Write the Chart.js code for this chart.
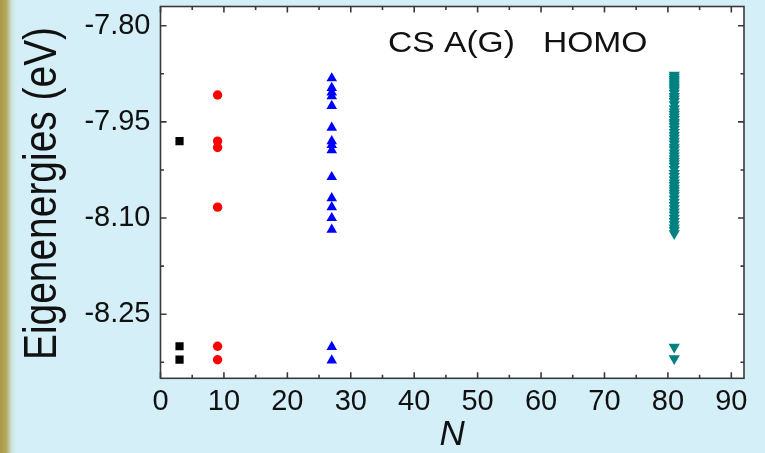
<!DOCTYPE html>
<html>
<head>
<meta charset="utf-8">
<script src="https://cdn.jsdelivr.net/npm/chart.js@4.4.1/dist/chart.umd.min.js"></script>
<style>
  html, body { margin: 0; padding: 0; }
  body {
    width: 765px; height: 453px; overflow: hidden;
    background: linear-gradient(to right, #a89a48 0px, #b3a658 6px, #cde6e2 12px, #d4eff7 17px, #d4eff7 100%);
  }
  canvas { display: block; }
</style>
</head>
<body>
<canvas id="chart" width="765" height="453"></canvas>
<script>
// Cluster sizes N and the HOMO-region eigenenergies (eV) computed for each
const clusterSizes = [3, 9, 27, 81];

const levelsN3 = [-7.980, -8.300, -8.321];

const levelsN9 = [-7.908, -7.980, -7.990, -8.083, -8.300, -8.321];

const levelsN27 = [-7.882, -7.897, -7.904, -7.910, -7.925, -7.959, -7.980, -7.986, -7.994,
                   -8.036, -8.069, -8.083, -8.100, -8.118, -8.301, -8.322];

const levelsN81 = [-7.877, -7.880, -7.883, -7.886, -7.889, -7.892, -7.895, -7.898, -7.901,
                   -7.905, -7.910, -7.914, -7.918, -7.923, -7.929, -7.934, -7.938, -7.942,
                   -7.946, -7.950, -7.953, -7.957, -7.961, -7.966, -7.971, -7.975, -7.980,
                   -7.984, -7.989, -7.993, -7.998, -8.003, -8.007, -8.011, -8.015, -8.019,
                   -8.024, -8.030, -8.035, -8.040, -8.045, -8.049, -8.053, -8.057, -8.061,
                   -8.065, -8.070, -8.075, -8.080, -8.085, -8.090, -8.095, -8.100, -8.105,
                   -8.110, -8.115, -8.119, -8.124, -8.301, -8.319];

// Axis ticks
const xMajorTicks = [0, 10, 20, 30, 40, 50, 60, 70, 80, 90];
const xMinorTicks = [5, 15, 25, 35, 45, 55, 65, 75, 85];
const yMajorTicks = [-7.80, -7.95, -8.10, -8.25];
const yMinorTicks = [-7.875, -8.025, -8.175, -8.325];

const toPoints = (n, levels) => levels.map(e => ({ x: n, y: e }));

const FONT = '"Liberation Sans", Arial, Helvetica, sans-serif';
const AXIS_COLOR = '#3a3a3a';

// White plot area, closed frame with inward major/minor ticks on all sides, and text labels
const framePlugin = {
  id: 'framePlugin',
  beforeDraw(chart) {
    const { ctx, chartArea: a } = chart;
    ctx.save();
    ctx.fillStyle = '#ffffff';
    ctx.fillRect(a.left, a.top, a.right - a.left, a.bottom - a.top);
    ctx.restore();
  },
  beforeDatasetsDraw(chart) {
    const { ctx, chartArea: a, scales: { x, y } } = chart;
    ctx.save();
    ctx.strokeStyle = AXIS_COLOR;
    ctx.lineWidth = 1.6;
    ctx.strokeRect(a.left, a.top, a.right - a.left, a.bottom - a.top);
    ctx.beginPath();
    const vTick = (v, len) => {
      const px = x.getPixelForValue(v);
      ctx.moveTo(px, a.bottom); ctx.lineTo(px, a.bottom - len);
      ctx.moveTo(px, a.top); ctx.lineTo(px, a.top + len);
    };
    const hTick = (v, len) => {
      const py = y.getPixelForValue(v);
      ctx.moveTo(a.left, py); ctx.lineTo(a.left + len, py);
      ctx.moveTo(a.right, py); ctx.lineTo(a.right - len, py);
    };
    xMajorTicks.forEach(v => vTick(v, 6));
    xMinorTicks.forEach(v => vTick(v, 3.5));
    yMajorTicks.forEach(v => hTick(v, 6));
    yMinorTicks.forEach(v => hTick(v, 3.5));
    ctx.stroke();
    ctx.restore();
  },
  afterDraw(chart) {
    const { ctx } = chart;
    // Vertical axis title, tall narrow lettering
    ctx.save();
    ctx.fillStyle = '#111111';
    ctx.translate(55.5, 193.5);
    ctx.rotate(-Math.PI / 2);
    ctx.scale(0.846, 1);
    ctx.font = '46px ' + FONT;
    ctx.textAlign = 'center';
    ctx.textBaseline = 'alphabetic';
    ctx.fillText('Eigenenergies (eV)', 0, 0);
    ctx.restore();

    // In-plot label
    ctx.save();
    ctx.fillStyle = '#111111';
    ctx.translate(388, 52);
    ctx.scale(1.12, 1);
    ctx.font = '30px ' + FONT;
    ctx.textAlign = 'left';
    ctx.textBaseline = 'alphabetic';
    ctx.fillText('CS A(G)   HOMO', 0, 0);
    ctx.restore();
  }
};

new Chart(document.getElementById('chart'), {
  type: 'scatter',
  data: {
    datasets: [
      { label: 'N = 3', data: toPoints(clusterSizes[0], levelsN3),
        pointStyle: 'rect', pointRadius: 5.8, backgroundColor: '#000000', borderWidth: 0 },
      { label: 'N = 9', data: toPoints(clusterSizes[1], levelsN9),
        pointStyle: 'circle', pointRadius: 4.7, backgroundColor: '#ff0000', borderWidth: 0 },
      { label: 'N = 27', data: toPoints(clusterSizes[2], levelsN27),
        pointStyle: 'triangle', pointRadius: 6.1, backgroundColor: '#0000ff', borderWidth: 0 },
      { label: 'N = 81', data: toPoints(clusterSizes[3], levelsN81),
        pointStyle: 'triangle', rotation: 180, pointRadius: 6.5, backgroundColor: '#008080', borderWidth: 0 }
    ]
  },
  options: {
    responsive: false,
    devicePixelRatio: 1,
    animation: false,
    events: [],
    layout: { padding: { left: 0, top: 6, right: 21, bottom: 0 } },
    plugins: { legend: { display: false }, tooltip: { enabled: false } },
    scales: {
      x: {
        type: 'linear', min: 0, max: 92,
        grid: { display: false, drawTicks: false },
        border: { display: false },
        afterBuildTicks: s => { s.ticks = xMajorTicks.map(v => ({ value: v })); },
        afterFit: s => { s.height = 453 - 378.3; s.paddingLeft = 0; s.paddingRight = 0; },
        ticks: { color: '#111111', padding: 6, maxRotation: 0, font: { family: FONT, size: 29 },
                 callback: v => String(v) },
        title: { display: true, text: 'N', color: '#111111', padding: { top: 0, bottom: -3 },
                 font: { family: FONT, size: 35, style: 'italic' } }
      },
      y: {
        type: 'linear', min: -8.35, max: -7.77,
        grid: { display: false, drawTicks: false },
        border: { display: false },
        afterBuildTicks: s => { s.ticks = yMajorTicks.map(v => ({ value: v })); },
        afterFit: s => { s.width = 160.5; s.paddingTop = 0; s.paddingBottom = 0; },
        ticks: { color: '#111111', padding: 10, font: { family: FONT, size: 29 },
                 callback: v => v.toFixed(2) }
      }
    }
  },
  plugins: [framePlugin]
});
</script>
</body>
</html>
